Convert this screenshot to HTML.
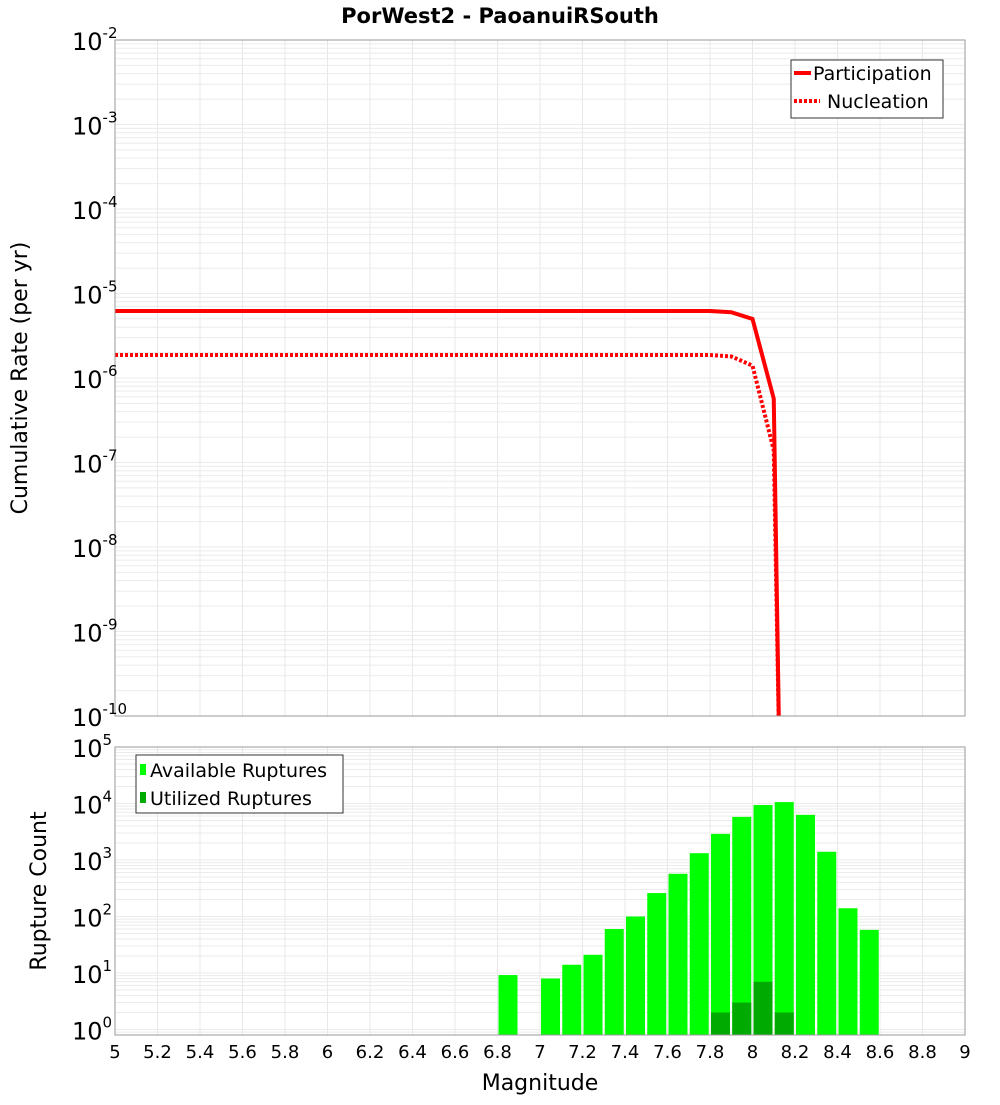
<!DOCTYPE html>
<html><head><meta charset="utf-8"><style>
body{margin:0;background:#fff;}
svg text{font-family:"DejaVu Sans","Liberation Sans",sans-serif;}
</style></head><body>
<svg id="chart" width="1000" height="1100" xmlns="http://www.w3.org/2000/svg">
<text x="500" y="23" text-anchor="middle" font-size="21" font-weight="bold">PorWest2 - PaoanuiRSouth</text>
<g id="top-grid"></g>
<g id="bot-grid"></g>
<g id="bars"></g>
<g id="lines"></g>
<rect x="115" y="40" width="850" height="676" fill="none" stroke="#999"/>
<rect x="115" y="747" width="850" height="288" fill="none" stroke="#999"/>
<g id="labels"></g>
<text transform="translate(27,378) rotate(-90)" text-anchor="middle" font-size="22">Cumulative Rate (per yr)</text>
<text transform="translate(46,891) rotate(-90)" text-anchor="middle" font-size="22">Rupture Count</text>
<text x="540" y="1090" text-anchor="middle" font-size="22">Magnitude</text>
<g>
<rect x="791" y="60" width="152" height="58" fill="#fff" stroke="#333"/>
<line x1="794" y1="73" x2="811" y2="73" stroke="red" stroke-width="4"/>
<text x="813" y="80" font-size="19">Participation</text>
<line x1="794" y1="101" x2="820" y2="101" stroke="red" stroke-width="4" stroke-dasharray="3,2"/>
<text x="827" y="108" font-size="19">Nucleation</text>
</g>
<g>
<rect x="136" y="755" width="207" height="58" fill="#fff" stroke="#333"/>
<rect x="140" y="764" width="6" height="11" fill="#00ff00"/>
<text x="150" y="777" font-size="19">Available Ruptures</text>
<rect x="140" y="792" width="6" height="11" fill="#00aa00"/>
<text x="150" y="805" font-size="19">Utilized Ruptures</text>
</g>
</svg>
<script>
const partMags=[5.0,7.8,7.9,8.0,8.1,8.13];
const partRates=[6.2e-6,6.2e-6,6.0e-6,5.0e-6,5.7e-7,1e-11];
const nuclMags=[5.0,7.8,7.9,8.0,8.1,8.13];
const nuclRates=[1.87e-6,1.87e-6,1.8e-6,1.4e-6,1.4e-7,1e-11];
const binMags=[6.8,7.0,7.1,7.2,7.3,7.4,7.5,7.6,7.7,7.8,7.9,8.0,8.1,8.2,8.3,8.4,8.5];
const availCounts=[9.2,8,14,21,60,100,260,570,1320,2900,5800,9400,10600,6300,1400,140,58];
const utilMags=[7.8,7.9,8.0,8.1];
const utilCounts=[2,3,7,2];
const xTicks=[5,5.2,5.4,5.6,5.8,6,6.2,6.4,6.6,6.8,7,7.2,7.4,7.6,7.8,8,8.2,8.4,8.6,8.8,9];
const topExps=[-2,-3,-4,-5,-6,-7,-8,-9,-10];
const botExps=[5,4,3,2,1,0];

const NS='http://www.w3.org/2000/svg';
const X=m=>115+(m-5)*212.5;
const Yt=v=>40+(-2-Math.log10(v))*84.5;
const Yb=v=>747+(5-Math.log10(v))*56.5;
function mk(tag,attrs,parent){const e=document.createElementNS(NS,tag);for(const k in attrs)e.setAttribute(k,attrs[k]);parent.appendChild(e);return e;}
const tg=document.getElementById('top-grid'),bg=document.getElementById('bot-grid'),lab=document.getElementById('labels');
// grids
for(let t=5;t<=9.001;t+=0.2){const x=X(t);
 const a=mk('line',{x1:x,x2:x,y1:40,y2:716,stroke:'#e8e8e8'},tg);
 const b=mk('line',{x1:x,x2:x,y1:747,y2:1035,stroke:'#e8e8e8'},bg);}
for(let e=-10;e<-2;e++)for(let k=1;k<10;k++){const y=Yt(k*Math.pow(10,e));
 const l=mk('line',{x1:115,x2:965,y1:y,y2:y,stroke:'#ebebeb'},tg);}
for(let e=-1;e<5;e++)for(let k=1;k<10;k++){const y=Yb(k*Math.pow(10,e));if(y>1035)continue;
 const l=mk('line',{x1:115,x2:965,y1:y,y2:y,stroke:'#ebebeb'},bg);}
// bars
const bars=document.getElementById('bars');
binMags.forEach((m,i)=>{const y=Yb(availCounts[i]);
 const r=mk('rect',{x:X(m)+1,y:y,width:19,height:1035-y,fill:'#00ff00'},bars);
 });
utilMags.forEach((m,i)=>{const y=Yb(utilCounts[i]);
 const r=mk('rect',{x:X(m)+1,y:y,width:19,height:1035-y,fill:'#00aa00'},bars);
 });
// lines
const lg=document.getElementById('lines');
mk('clipPath',{id:'cp'},lg).appendChild(Object.assign(document.createElementNS(NS,'rect'),{}));
const cpr=lg.querySelector('clipPath rect');cpr.setAttribute('x',115);cpr.setAttribute('y',40);cpr.setAttribute('width',850);cpr.setAttribute('height',676);
const p1=mk('polyline',{points:partMags.map((m,i)=>X(m)+','+Yt(partRates[i])).join(' '),fill:'none',stroke:'red','stroke-width':4,'clip-path':'url(#cp)'},lg);

const p2=mk('polyline',{points:nuclMags.map((m,i)=>X(m)+','+Yt(nuclRates[i])).join(' '),fill:'none',stroke:'red','stroke-width':4,'stroke-dasharray':'3,2','clip-path':'url(#cp)'},lg);

// labels
xTicks.forEach(t=>{const s=mk('text',{x:X(t),y:1058,'text-anchor':'middle','font-size':18},lab);s.textContent=String(t);
 });
function expLabel(y,e,name){const s=mk('text',{x:72,y:y+10,'font-size':24},lab);s.textContent='10';
 const sup=mk('tspan',{dy:-12,'font-size':15},s);sup.textContent=String(e);
 }
topExps.forEach(e=>expLabel(Yt(Math.pow(10,e)),e,'top-y-tick-label'));
botExps.forEach(e=>expLabel(Yb(Math.pow(10,e)),e,'bottom-y-tick-label'));
</script>
</body></html>
